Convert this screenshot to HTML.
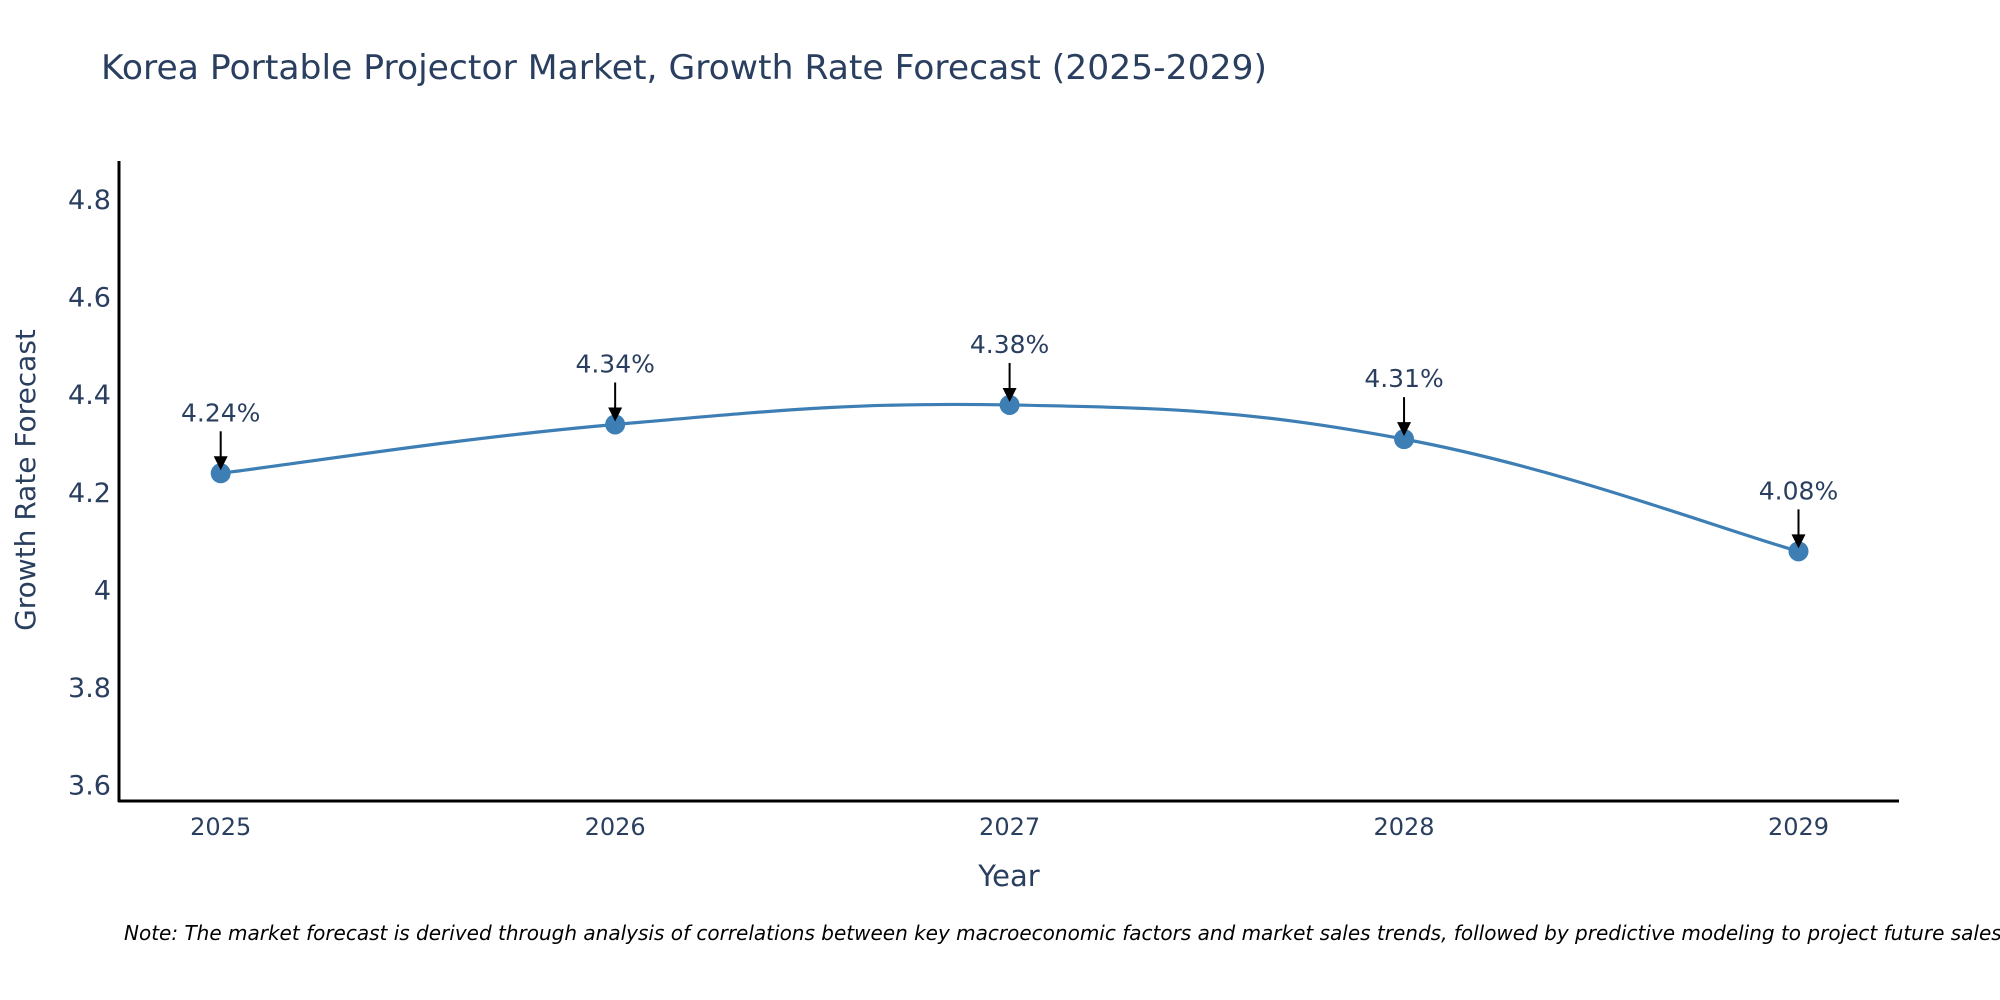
<!DOCTYPE html>
<html><head><meta charset="utf-8"><style>
html,body{margin:0;padding:0;background:#fff;}
svg{display:block;font-family:"DejaVu Sans","Liberation Sans",sans-serif;}
</style></head><body>
<svg id="chart" width="2000" height="1000" viewBox="0 0 2000 1000" xmlns="http://www.w3.org/2000/svg">
<text x="101" y="79" font-size="34" fill="#2a3f5f" textLength="1166" lengthAdjust="spacingAndGlyphs">Korea Portable Projector Market, Growth Rate Forecast (2025-2029)</text>
<g id="yticks"></g>
<g id="xticks"></g>
<line x1="119" y1="161" x2="119" y2="802" stroke="#000" stroke-width="3"/>
<line x1="118" y1="801" x2="1899" y2="801" stroke="#000" stroke-width="3"/>
<text transform="translate(35,480) rotate(-90)" text-anchor="middle" font-size="28" fill="#2a3f5f">Growth Rate Forecast</text>
<text x="1009" y="886" text-anchor="middle" font-size="29" fill="#2a3f5f">Year</text>
<g id="series"></g>
<g id="annots"></g>
<text x="124" y="940" font-size="20" font-style="italic" fill="#000">Note: The market forecast is derived through analysis of correlations between key macroeconomic factors and market sales trends, followed by predictive modeling to project future sales.</text>
</svg>
<script>
const years = [2025, 2026, 2027, 2028, 2029];
const growth = [4.24, 4.34, 4.38, 4.31, 4.08];
const labels = ["4.24%", "4.34%", "4.38%", "4.31%", "4.08%"];
const yTicks = [3.6, 3.8, 4.0, 4.2, 4.4, 4.6, 4.8];
const yTickLabels = ["3.6", "3.8", "4", "4.2", "4.4", "4.6", "4.8"];

const NS = "http://www.w3.org/2000/svg";
function xScale(v){ return 220.7 + (v - 2025) * 394.45; }
function yScale(v){ return 200 + (4.8 - v) * 488; }
function mk(tag, attrs, parent){
  const e = document.createElementNS(NS, tag);
  for (const k in attrs) e.setAttribute(k, attrs[k]);
  parent.appendChild(e);
  return e;
}
const yt = document.getElementById('yticks');
yTicks.forEach((t,i)=>{
  const el = mk('text',{x:111,y:yScale(t)+9,'text-anchor':'end','font-size':27,fill:'#2a3f5f'},yt);
  
  
  el.textContent = yTickLabels[i];
});
const xt = document.getElementById('xticks');
years.forEach(y=>{
  const el = mk('text',{x:xScale(y),y:835,'text-anchor':'middle','font-size':24,fill:'#2a3f5f'},xt);
  
  
  el.textContent = String(y);
});
const pts = years.map((y,i)=>[xScale(y), yScale(growth[i])]);
let d = "M" + pts[0][0] + "," + pts[0][1];
const s = 0.2;
for (let i=0;i<pts.length-1;i++){
  const p0 = pts[Math.max(0,i-1)], p1 = pts[i], p2 = pts[i+1], p3 = pts[Math.min(pts.length-1,i+2)];
  const c1 = [p1[0] + (p2[0]-p0[0])*s, p1[1] + (p2[1]-p0[1])*s];
  const c2 = [p2[0] - (p3[0]-p1[0])*s, p2[1] - (p3[1]-p1[1])*s];
  d += " C" + c1[0] + "," + c1[1] + " " + c2[0] + "," + c2[1] + " " + p2[0] + "," + p2[1];
}
const ser = document.getElementById('series');
const line = mk('path',{d:d,fill:'none',stroke:'#3d7eb5','stroke-width':3.2},ser);


pts.forEach(p=>{
  const c = mk('circle',{cx:p[0],cy:p[1],r:10,fill:'#3d7eb5'},ser);
  
  
});
const an = document.getElementById('annots');
pts.forEach((p,i)=>{
  const g = mk('g',{},an);
  
  
  mk('line',{x1:p[0],y1:p[1]-42,x2:p[0],y2:p[1]-16,stroke:'#000','stroke-width':2},g);
  mk('polygon',{points:(p[0]-7)+","+(p[1]-17)+" "+(p[0]+7)+","+(p[1]-17)+" "+p[0]+","+(p[1]-3),fill:'#000'},g);
  const t = mk('text',{x:p[0],y:p[1]-52,'text-anchor':'middle','font-size':25,fill:'#2a3f5f'},g);
  t.textContent = labels[i];
});
</script>
</body></html>
